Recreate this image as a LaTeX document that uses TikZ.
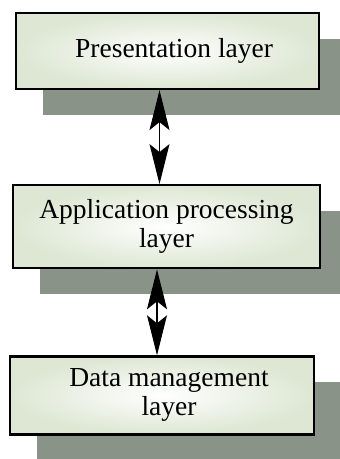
\documentclass[tikz,border=0pt]{standalone}
\usepackage{fontspec}
\setmainfont{Liberation Serif}
\usetikzlibrary{arrows.meta,positioning,shadows}

\definecolor{shadowgray}{HTML}{899388}
\definecolor{boxgreen}{HTML}{DDE7D3}

\tikzset{
    layer/.style={rectangle, draw, line width=2.2pt, align=center,
        minimum width=303pt, minimum height=78pt, inner sep=0pt,
        shading=radial, inner color=white, outer color=boxgreen,
        drop shadow={shadow xshift=27pt, shadow yshift=-26pt, fill=shadowgray, opacity=1},
        font=\fontsize{27.5}{29}\selectfont},
    textshift/.style={execute at begin node={\hspace*{#1}}},
    updown/.style={{Stealth[length=40pt,width=20pt,inset=8pt]}-{Stealth[length=40pt,width=20pt,inset=8pt]},
        line width=1.2pt}
}

\begin{document}
\begin{tikzpicture}

    \useasboundingbox (0,0) rectangle (340pt,-459pt);

    %-----Layers-----
    % Presentation Layer
    \node [layer, minimum height=76pt, textshift=20pt] (pres) at (167.5pt,-51pt) {%
        Presentation layer
    };

    % Application Processing Layer
    \node [layer, below=94pt of pres, xshift=-1pt, minimum width=307pt, minimum height=83pt] (app) {%
        Application processing \\
        layer
    };

    % Data Management Layer
    \node [layer, below=86pt of app, xshift=-4.5pt, minimum width=304pt, textshift=14pt] (data) {%
        Data management \\
        layer
    };

    %-----Links-----
    \draw [updown] ([xshift=-8pt]pres.south) -- ([xshift=-8pt]pres.south |- app.north);
    \draw [updown] ([xshift=-9.5pt]app.south) -- ([xshift=-9.5pt]app.south |- data.north);

\end{tikzpicture}
\end{document}
